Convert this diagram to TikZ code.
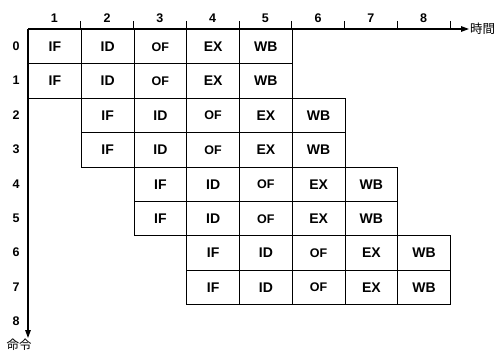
\documentclass[tikz,border=0pt]{standalone}
\usepackage{fontspec}
\setmainfont{Liberation Sans}
\newfontfamily\cjk{Noto Sans CJK JP}
\usetikzlibrary{arrows.meta}
\begin{document}
\begin{tikzpicture}[x=1pt,y=-1pt,
 cell/.style={draw,line width=1pt,minimum width=52.75pt,minimum height=34.4pt,inner sep=0pt,anchor=north west,font=\bfseries\fontsize{14}{14}\selectfont},
 small/.style={font=\bfseries\fontsize{12.5}{12.5}\selectfont},
 axis/.style={line width=1.3pt,-{Triangle[length=8pt,width=5.5pt]}},
 tick/.style={line width=1pt},
 lab/.style={font=\bfseries\fontsize{12.5}{12.5}\selectfont,inner sep=0pt},
 jlab/.style={font=\cjk\fontsize{12.5}{12.5}\selectfont,inner sep=0pt}]
\useasboundingbox (0,0) rectangle (496,353);
\foreach \r in {0,...,7} {
  \pgfmathtruncatemacro\shf{\r/2}
  \foreach \st/\sty [count=\k from 0] in {IF/cell,ID/cell,OF/small,EX/cell,WB/cell} {
    \node[cell,\sty] (c\r\k) at ({28+52.75*(\shf+\k)},{29+34.4*\r}) {\st};
  }
}
\coordinate (O) at (28,29);
\coordinate (tend) at (469,29);
\coordinate (iend) at (28,338);
\draw[axis] (O) -- (tend);
\draw[axis] (O) -- (iend);
\foreach \i in {1,...,8} {
  \node[lab] (t\i) at ({28+52.75*(\i-0.5)},18) {\i};
  \draw[tick] ({28+52.75*\i},21) -- ({28+52.75*\i},29);
}
\foreach \r in {0,...,8} {
  \node[lab] (r\r) at (16,{29+34.4*(\r+0.5)}) {\r};
}
\node[jlab,anchor=west] (time) at (470,29) {時間};
\node[jlab] (instr) at (19,345) {命令};
\end{tikzpicture}
\end{document}
